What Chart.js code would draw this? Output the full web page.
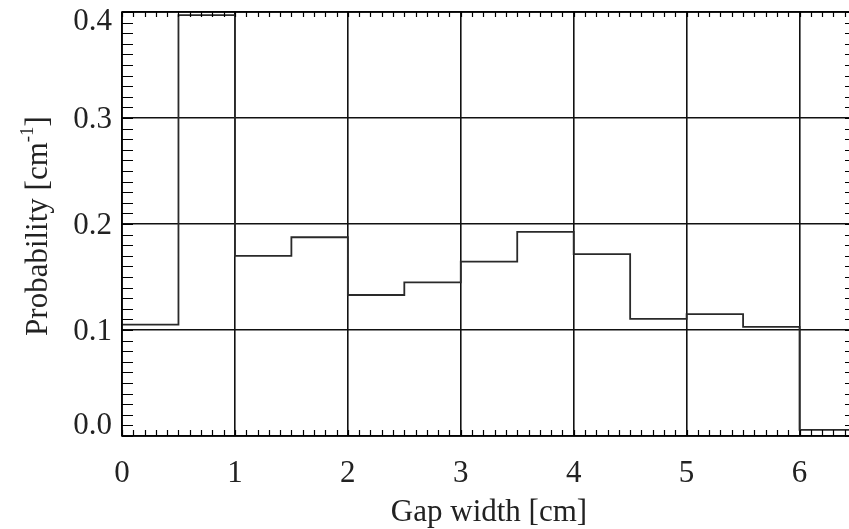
<!DOCTYPE html>
<html lang="en">
<head>
  <title>Gap width distribution</title>
  <script src="https://cdn.jsdelivr.net/npm/chart.js@4/dist/chart.umd.min.js"></script>
  <style>
    html, body { margin: 0; padding: 0; background: #fff; overflow: hidden; }
  </style>
</head>
<body>
<canvas id="gapchart" width="857" height="529"></canvas>
<script>
// histogram bins: left edge [cm] and probability density [1/cm]
const binEdges = [0, 0.5, 1, 1.5, 2, 2.5, 3, 3.5, 4, 4.5, 5, 5.5, 6];
const binWidth = 0.5;
const probability = [0.105, 0.397, 0.170, 0.1875, 0.133, 0.145, 0.1645, 0.1925, 0.1715, 0.1105, 0.115, 0.103, 0.0057];

const xTicks = [0, 1, 2, 3, 4, 5, 6];
const yTicks = [0.0, 0.1, 0.2, 0.3, 0.4];
const yTickLabels = ['0.0', '0.1', '0.2', '0.3', '0.4'];
const xMinorStep = 0.1;
const yMinorStep = 0.01;

const xTitle = 'Gap width [cm]';
const yTitle = 'Probability [cm';
const yTitleSup = '-1';

const serif = '"Liberation Serif", "DejaVu Serif", serif';
Chart.defaults.font.family = serif;

// step line: one point per left edge plus the closing right edge
const stepPoints = binEdges.map((e, i) => ({ x: e, y: probability[i] }));
stepPoints.push({ x: binEdges[binEdges.length - 1] + binWidth, y: probability[probability.length - 1] });

// frame, inward minor ticks, y labels and rotated y title (with superscript)
const idlAxes = {
  id: 'idlAxes',
  afterDraw(chart) {
    const ctx = chart.ctx;
    const a = chart.chartArea;
    const xs = chart.scales.x, ys = chart.scales.y;
    ctx.save();
    ctx.strokeStyle = '#000';
    ctx.lineWidth = 1.2;
    ctx.beginPath();
    for (let v = xs.min; v <= xs.max + 1e-9; v += xMinorStep) {
      const px = Math.round(xs.getPixelForValue(v)) + 0.5;
      ctx.moveTo(px, a.bottom); ctx.lineTo(px, a.bottom - 6);
      ctx.moveTo(px, a.top); ctx.lineTo(px, a.top + 5);
    }
    for (let v = ys.min; v <= ys.max + 1e-9; v += yMinorStep) {
      const py = Math.round(ys.getPixelForValue(v)) + 0.5;
      ctx.moveTo(a.left, py); ctx.lineTo(a.left + 11, py);
      ctx.moveTo(a.right, py); ctx.lineTo(a.right - 11, py);
    }
    ctx.stroke();

    ctx.lineWidth = 1.6;
    ctx.strokeRect(a.left, a.top, a.right - a.left, a.bottom - a.top);

    // y tick labels, kept inside the frame at the ends
    ctx.fillStyle = '#222';
    ctx.font = '31px ' + serif;
    ctx.textAlign = 'right';
    ctx.textBaseline = 'middle';
    const half = 10;
    yTicks.forEach((v, i) => {
      let py = ys.getPixelForValue(v) + 2;
      py = Math.max(a.top + half, Math.min(a.bottom - half, py));
      ctx.fillText(yTickLabels[i], a.left - 10, py);
    });

    // y title
    ctx.font = '31px ' + serif;
    const w1 = ctx.measureText(yTitle).width;
    ctx.font = '19px ' + serif;
    const ws = ctx.measureText(yTitleSup).width;
    ctx.font = '31px ' + serif;
    const w2 = ctx.measureText(']').width;
    const total = w1 + ws + w2;
    ctx.translate(47, 226 + total / 2);
    ctx.rotate(-Math.PI / 2);
    ctx.textAlign = 'left';
    ctx.textBaseline = 'alphabetic';
    ctx.fillText(yTitle, 0, 0);
    ctx.font = '19px ' + serif;
    ctx.fillText(yTitleSup, w1, -14);
    ctx.font = '31px ' + serif;
    ctx.fillText(']', w1 + ws, 0);
    ctx.restore();
  }
};

new Chart(document.getElementById('gapchart'), {
  type: 'line',
  data: {
    datasets: [{
      data: stepPoints,
      stepped: 'before',
      borderColor: '#2a2a2a',
      borderWidth: 1.8,
      pointRadius: 0,
      fill: false
    }]
  },
  options: {
    responsive: false,
    animation: false,
    layout: { padding: { top: 12, right: 1, left: 0, bottom: 0 } },
    plugins: { legend: { display: false }, tooltip: { enabled: false } },
    scales: {
      x: {
        type: 'linear',
        min: 0,
        max: 6.5,
        afterBuildTicks: s => { s.ticks = xTicks.map(v => ({ value: v })); },
        afterFit: s => { s.height = 93; },
        grid: { color: '#111', lineWidth: 1.6, drawTicks: false },
        border: { display: false },
        ticks: { color: '#222', font: { size: 31 }, padding: 19, maxRotation: 0 },
        title: { display: true, text: xTitle, color: '#222', font: { size: 31 }, padding: { top: 0, bottom: -2 } }
      },
      y: {
        type: 'linear',
        min: 0,
        max: 0.4,
        afterBuildTicks: s => { s.ticks = yTicks.map(v => ({ value: v })); },
        afterFit: s => { s.width = 122; },
        grid: { color: '#111', lineWidth: 1.6, drawTicks: false },
        border: { display: false },
        ticks: { display: false }
      }
    }
  },
  plugins: [idlAxes]
});
</script>
</body>
</html>
